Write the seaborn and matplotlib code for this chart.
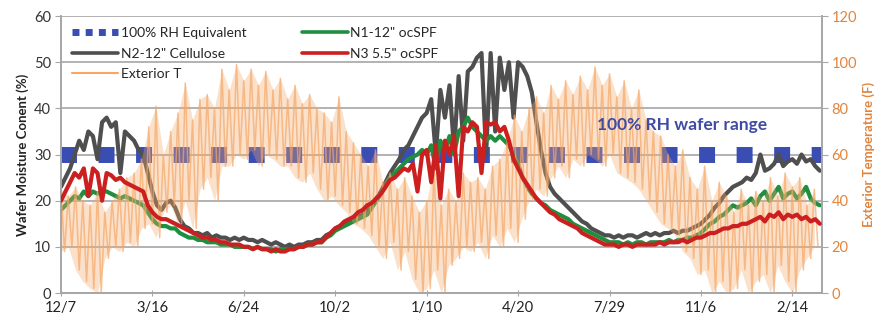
import matplotlib
matplotlib.use("Agg")
import matplotlib.pyplot as plt
from matplotlib.lines import Line2D
import seaborn as sns
import pandas as pd

# days since 12/7, one sample every 5 days
days = list(range(0, 831, 5))

n2_cellulose = [
    23, 25, 27, 30, 33, 31, 35, 34, 29, 37,
    38, 36, 37, 26, 35, 34, 33, 31, 30, 26,
    22, 19, 18, 19.5, 20, 18.5, 16, 14.5, 14, 13,
    13, 12.5, 13, 12, 12.5, 12, 12, 11.5, 12, 11.5,
    12, 11.5, 11.5, 11, 11.5, 11, 10.5, 11, 10.5, 10,
    10.5, 10, 10.5, 10.5, 11, 11, 11.5, 11.5, 12.5, 13,
    14, 14.5, 15, 15.5, 16, 16.5, 17, 18, 19, 20.5,
    22, 24, 26, 27.5, 29, 31, 32, 34, 36, 38,
    39, 42, 30, 44, 38, 45, 31, 47, 33, 48,
    49, 51, 52, 30, 52, 35, 51, 44, 50, 38,
    50, 49, 47, 43.5, 37, 31, 26, 23, 21.5, 20.5,
    19.5, 18.5, 17.5, 16.5, 15.5, 15, 14, 13.5, 13, 12.5,
    12.5, 12, 12.5, 12, 12.5, 12.5, 12, 12.5, 13, 12.5,
    13, 12.5, 13, 13, 13.5, 13, 13.5, 13.5, 14, 14.5,
    15, 16, 17, 18.5, 19.5, 21, 22, 23, 23.5, 24,
    25, 24.5, 26, 30, 26.5, 27, 28, 30, 27.5, 28.5,
    29, 28, 30, 28.5, 29, 27.5, 26.5,
]

n1_ocspf = [
    18, 19, 20, 21, 20.5, 22, 21, 22, 21.5, 22,
    22, 21.5, 21, 20.5, 21, 20.5, 20, 19.5, 19, 17.5,
    16, 15, 14.5, 14.5, 14, 14, 13, 12.5, 12, 12,
    11.5, 11.5, 11, 11, 11, 10.5, 10.5, 10.5, 10, 10,
    10, 10, 9.5, 10, 9.5, 9.5, 9.5, 9, 9.5, 9.5,
    9.5, 9.5, 10, 10, 10.5, 10.5, 11, 11, 12, 12.5,
    13.5, 14, 14.5, 15, 15.5, 16, 16.5, 17, 18.5, 20,
    21.5, 23, 25, 26, 27, 28, 29, 29.5, 30, 31,
    30, 32, 27, 33, 31, 34, 30, 35, 36, 38,
    36, 35, 34, 33, 34, 33, 34, 33, 32, 30,
    28, 25, 23, 21.5, 20.5, 19.5, 19, 18, 17.5, 17,
    16.5, 16, 15, 14.5, 14, 13.5, 13, 12.5, 12, 11.5,
    11, 11, 11, 10.5, 11, 10.5, 11, 11, 10.5, 11,
    11, 11, 11, 11.5, 11, 11.5, 11.5, 12, 12, 12.5,
    13, 14, 15, 15.5, 16.5, 17, 18, 19, 18.5, 19,
    19.5, 20.5, 19, 21, 22, 20, 21.5, 23, 20.5, 21.5,
    22, 20.5, 21.5, 23, 20.5, 19.5, 19,
]

n3_ocspf = [
    20, 22, 24, 26, 25, 27, 21, 27, 26, 20,
    26, 25.5, 24.5, 25, 24, 23.5, 23, 22.5, 22, 19,
    17.5, 16.5, 16, 16, 15.5, 15, 14.5, 14, 13.5, 13,
    12.5, 12, 12, 11.5, 11.5, 11, 11, 10.5, 10.5, 10.5,
    10, 10, 9.5, 10, 9.5, 9.5, 9, 9.5, 9, 9,
    9.5, 9.5, 10, 10, 10.5, 10.5, 11, 11, 12, 13,
    14, 14.5, 15.5, 16, 16.5, 17.5, 18, 19, 19.5, 20.5,
    21.5, 23, 24.5, 25, 26, 27, 26.5, 28, 22, 30,
    31, 24, 32, 20.5, 33, 30, 34, 21, 36, 35,
    37, 36, 26, 37, 36.5, 37, 35, 36, 33, 29,
    27, 25, 23.5, 22, 20.5, 19.5, 18.5, 17.5, 17, 16,
    15.5, 15, 14.5, 14, 13, 12.5, 12, 11.5, 11, 10.5,
    10.5, 10.5, 10, 10.5, 10.5, 10, 10.5, 10.5, 10.5, 10.5,
    10.5, 11, 10.5, 11, 11, 11, 11.5, 11, 11.5, 12,
    12, 12.5, 13, 13, 13.5, 14, 14, 14.5, 14.5, 15,
    15, 15.5, 16, 16.5, 15.5, 17, 16.5, 17.5, 16, 17,
    16.5, 17, 16, 16.5, 15.5, 16, 15,
]

# exterior temperature (F): highs and lows every 8 days
ext_high = [
    45, 42, 46, 40, 38, 44, 35, 40, 45, 50,
    52, 58, 72, 81, 60, 70, 78, 91, 75, 84,
    86, 80, 97, 88, 99, 92, 97, 90, 96, 88,
    93, 84, 90, 82, 86, 80, 78, 74, 85, 70,
    65, 60, 55, 62, 48, 52, 45, 50, 42, 35,
    40, 55, 38, 45, 40, 52, 48, 50, 45, 55,
    58, 66, 77, 70, 80, 85, 78, 90, 84, 92,
    86, 94, 88, 98, 90, 95, 85, 92, 80, 88,
    75, 70, 68, 60, 55, 62, 50, 45, 55, 40,
    48, 42, 35, 45, 38, 44, 40, 50, 42, 52,
    46, 50, 38, 45,
]
ext_low = [
    18, 20, 10, 5, 2, 0, 15, 20, 18, 22,
    20, 28, 30, 24, 35, 38, 30, 40, 28, 45,
    50, 40, 55, 55, 60, 58, 62, 55, 60, 58,
    55, 55, 50, 48, 52, 45, 40, 42, 38, 35,
    30, 28, 25, 20, 15, 22, 10, 18, 6, 0,
    2, 10, 0, 12, 15, 20, 18, 22, 15, 25,
    20, 28, 22, 32, 40, 45, 42, 50, 55, 50,
    58, 55, 60, 58, 55, 60, 52, 50, 48, 45,
    40, 35, 30, 28, 25, 18, 15, 8, 10, 0,
    5, 0, 2, 10, 0, 5, 8, 0, 12, 5,
    0, 10, 15, 20,
]

rh_level = 30
tick_days = [0, 100, 200, 300, 400, 500, 600, 700, 800]
tick_labels = ["12/7", "3/16", "6/24", "10/2", "1/10", "4/20", "7/29", "11/6", "2/14"]

ext_hi_days = list(range(0, 8 * len(ext_high), 8))
ext_days = list(range(0, 8 * len(ext_high), 4))
ext_temp = [v for pair in zip(ext_high, ext_low) for v in pair]

moist = pd.DataFrame({"day": days, "N1": n1_ocspf, "N2": n2_cellulose, "N3": n3_ocspf})
ext = pd.DataFrame({"day": ext_days, "T": ext_temp})

sns.set_style("white")
plt.rcParams['font.family'] = ['Lato', 'DejaVu Sans']

BLUE = "#3A4DB2"
GRAY = "#4F4F4F"
GREEN = "#1F8F3F"
RED = "#CC2020"
ORANGE = "#F4A768"
ORANGE_TXT = "#E2843C"
GRID = "#A6A6A6"

fig = plt.figure(figsize=(8.96, 3.22), dpi=100)
ax = fig.add_axes([0.068, 0.09, 0.849, 0.86])
ax2 = ax.twinx()   # temperature
ax3 = ax.twinx()   # N3 drawn above the temperature trace
ax3.axis("off")

sns.lineplot(x=[0, 832], y=[rh_level, rh_level], ax=ax, color=BLUE, lw=11.5,
             linestyle=(0, (1, 1.35)), dash_capstyle="butt", zorder=1)
sns.lineplot(data=moist, x="day", y="N2", ax=ax, color=GRAY, lw=3.0, zorder=2)
sns.lineplot(data=moist, x="day", y="N1", ax=ax, color=GREEN, lw=3.0, zorder=3)
ax2.fill_between(ext_hi_days, ext_low, ext_high, color=ORANGE, alpha=0.35, lw=0)
sns.lineplot(data=ext, x="day", y="T", ax=ax2, color=ORANGE, lw=1.1, alpha=0.7)
sns.lineplot(data=moist, x="day", y="N3", ax=ax3, color=RED, lw=3.0)

ax.set_xlim(0, 832)
for a in (ax, ax3):
    a.set_ylim(0, 60)
ax2.set_ylim(0, 120)
ax.set_yticks(range(0, 61, 10))
ax2.set_yticks(range(0, 121, 20))
ax.set_xticks(tick_days)
ax.set_xticklabels(tick_labels)
ax.set_xlabel("")
ax.set_ylabel("Wafer Moisture Conent (%)", fontsize=9.5, fontweight="bold", color="#222222")
ax2.set_ylabel("Exterior Temperature (F)", fontsize=9.5, fontweight="bold", color=ORANGE_TXT)

ax.yaxis.grid(True, color=GRID, lw=1.2)
ax.xaxis.grid(False)
for a in (ax, ax2):
    a.spines["top"].set_visible(False)
    for s in ("left", "bottom", "right"):
        a.spines[s].set_color(GRID)
        a.spines[s].set_linewidth(1.2)

ax.tick_params(axis="x", bottom=True, length=4, direction="inout", color=GRID,
               labelsize=10.5, labelcolor="#222222", pad=4)
ax.tick_params(axis="y", left=True, length=4, color=GRID, labelsize=10.5,
               labelcolor="#333333", pad=3)
ax2.tick_params(axis="y", right=True, length=4, color=GRID, labelsize=10.5,
                labelcolor=ORANGE_TXT, pad=3)

for a in (ax, ax2, ax3):
    if a.get_legend() is not None:
        a.get_legend().remove()

handles = [
    Line2D([], [], color=BLUE, lw=5, linestyle=(0, (1, 0.9)), dash_capstyle="butt"),
    Line2D([], [], color=GRAY, lw=2.6),
    Line2D([], [], color=ORANGE, lw=1.5),
    Line2D([], [], color=GREEN, lw=2.6),
    Line2D([], [], color=RED, lw=2.6),
]
labels = ["100% RH Equivalent", 'N2-12" Cellulose', "Exterior T", 'N1-12" ocSPF', 'N3 5.5" ocSPF']
ax3.legend(handles, labels, ncol=2, loc="upper left", bbox_to_anchor=(0.0, 1.0),
           frameon=False, fontsize=10, handlelength=3.3, handletextpad=0.2,
           columnspacing=4.0, labelspacing=0.6, borderaxespad=0.5, borderpad=0.3)

ax3.text(586, 36.4, "100% RH wafer range", color="#3F4BA5",
         fontsize=12.5, fontweight="bold", va="center", ha="left", zorder=10)

fig.savefig("out.png", dpi=100)
